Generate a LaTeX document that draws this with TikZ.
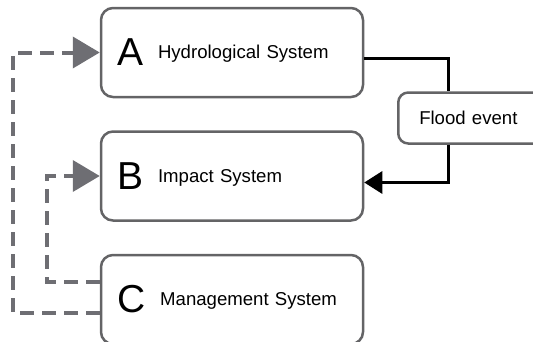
\documentclass[tikz,border=0pt]{standalone}
\usepackage{fontspec}
\setmainfont{Liberation Sans}
\usetikzlibrary{positioning,arrows.meta}

\definecolor{boxgray}{RGB}{100,100,102}
\definecolor{linkgray}{RGB}{110,110,115}

\newcommand{\syslabel}[2]{\raisebox{-7pt}{\fontsize{39}{39}\selectfont #1}\hspace{15pt}#2}

\begin{document}
\begin{tikzpicture}[x=1pt,y=1pt,node distance=32pt,
		font=\fontsize{18.6}{20}\selectfont,
		system/.style={draw=boxgray,line width=2.5pt,rounded corners=12pt,
			minimum width=262pt,minimum height=89pt,inner xsep=16pt,
			text width=230pt,align=left},
		event/.style={draw=boxgray,line width=2.5pt,rounded corners=10pt,
			minimum width=148pt,minimum height=51pt,inner xsep=21pt,
			text width=106pt,align=left},
		flow/.style={black,line width=3pt},
		feedback/.style={linkgray,line width=4pt,dash pattern=on 14pt off 8pt,
			-{Triangle[length=27pt,width=31pt]}}]
		\useasboundingbox (0,0) rectangle (533,-341);
		
		\node[system] (A) at (232,-52.5) {\syslabel{A}{Hydrological System}};
		\node[system] (B) [below=of A] {\syslabel{B}{Impact System}};
		\node[system] (C) [below=of B] {\syslabel{C}{Management System}};
		\node[event] (F) [anchor=west] at (397,-118) {Flood event};
		
		\coordinate (outer) at (13,0);
		\coordinate (inner) at (47,0);
		
		\draw[flow] ([yshift=-6pt]A.east) -| ([xshift=51pt]F.north west);
		\draw[flow,-{Triangle[length=18pt,width=22pt]}] ([xshift=51pt]F.south west) |- ([yshift=-6.5pt]B.east);
		\draw[feedback] ([yshift=-13.5pt]C.west) -| (outer |- A.west) -- (A.west);
		\draw[feedback] ([yshift=17.5pt]C.west) -| (inner |- B.west) -- (B.west);
\end{tikzpicture}
\end{document}
